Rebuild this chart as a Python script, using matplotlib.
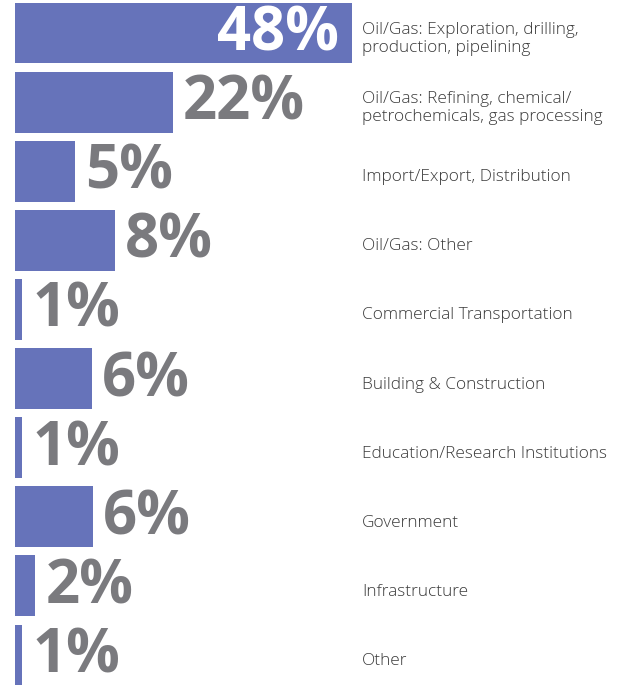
import matplotlib
matplotlib.use("Agg")
import matplotlib.pyplot as plt
from matplotlib import font_manager

categories = [
    "Oil/Gas: Exploration, drilling,\nproduction, pipelining",
    "Oil/Gas: Refining, chemical/\npetrochemicals, gas processing",
    "Import/Export, Distribution",
    "Oil/Gas: Other",
    "Commercial Transportation",
    "Building & Construction",
    "Education/Research Institutions",
    "Government",
    "Infrastructure",
    "Other",
]
pct_labels = ["48%", "22%", "5%", "8%", "1%", "6%", "1%", "6%", "2%", "1%"]
# bar lengths as drawn in the picture (not strictly proportional to the labels)
bar_lengths = [48, 22.5, 8.5, 14.2, 1.0, 10.9, 1.0, 11.1, 2.9, 1.0]

names = {f.name for f in font_manager.fontManager.ttflist}
num_font = "Open Sans" if "Open Sans" in names else "DejaVu Sans"
cat_font = "Open Sans" if "Open Sans" in names else "DejaVu Sans"

bar_color = "#6673BA"
num_color = "#7A7A7E"
cat_color = "#3A3A3A"

fig = plt.figure(figsize=(6.35, 6.85), dpi=100)
ax = fig.add_axes([0, 0, 1, 1])

y = list(range(len(categories)))
ax.barh(y, bar_lengths, height=0.88, left=0, color=bar_color)

# px -> data scale: 48 units spans ~337 px, left edge at 15 px
ax.set_xlim(-2.14, 88.3)
ax.set_ylim(9.435, -0.478)
ax.axis("off")

for i, (val, lab) in enumerate(zip(bar_lengths, pct_labels)):
    if i == 0:
        ax.annotate(lab, (val, i), xytext=(-13, -2), textcoords="offset pixels",
                    ha="right", va="center", color="white", fontsize=43,
                    fontweight="bold", family=num_font)
    else:
        ax.annotate(lab, (val, i), xytext=(10, -2), textcoords="offset pixels",
                    ha="left", va="center", color=num_color, fontsize=43,
                    fontweight="bold", family=num_font)
    ax.annotate(categories[i], (0, i), xycoords=("figure pixels", "data"),
                xytext=(362, -6), textcoords="offset pixels",
                ha="left", va="center", color=cat_color, fontsize=12.4,
                family=cat_font, fontweight=300, linespacing=1.22)

fig.savefig("out.png", dpi=100)
